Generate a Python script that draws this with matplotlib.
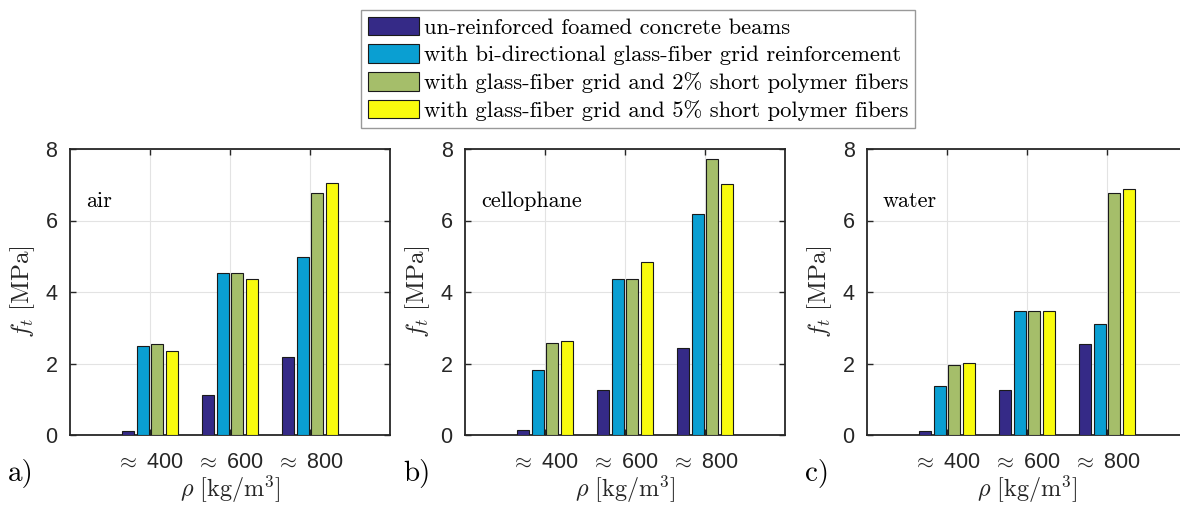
import matplotlib
matplotlib.use("Agg")
import matplotlib.pyplot as plt
import numpy as np

plt.rcParams['mathtext.fontset'] = 'cm'
plt.rcParams['font.family'] = ['Liberation Sans', 'DejaVu Sans']

categories = [r'$\approx$ 400', r'$\approx$ 600', r'$\approx$ 800']
series_labels = [
    'un-reinforced foamed concrete beams',
    'with bi-directional glass-fiber grid reinforcement',
    'with glass-fiber grid and 2% short polymer fibers',
    'with glass-fiber grid and 5% short polymer fibers',
]
colors = ['#352a87', '#0a9fd2', '#a5be6a', '#f9fb0e']

air_unreinforced = [0.11, 1.12, 2.17]
air_grid = [2.48, 4.53, 4.99]
air_grid_2pct = [2.55, 4.53, 6.76]
air_grid_5pct = [2.34, 4.35, 7.06]

cello_unreinforced = [0.14, 1.25, 2.42]
cello_grid = [1.81, 4.36, 6.18]
cello_grid_2pct = [2.57, 4.36, 7.73]
cello_grid_5pct = [2.63, 4.84, 7.03]

water_unreinforced = [0.12, 1.26, 2.55]
water_grid = [1.37, 3.46, 3.11]
water_grid_2pct = [1.96, 3.46, 6.76]
water_grid_5pct = [2.02, 3.48, 6.87]

panels = [
    ('air', 'a)', [air_unreinforced, air_grid, air_grid_2pct, air_grid_5pct]),
    ('cellophane', 'b)', [cello_unreinforced, cello_grid, cello_grid_2pct, cello_grid_5pct]),
    ('water', 'c)', [water_unreinforced, water_grid, water_grid_2pct, water_grid_5pct]),
]

W, H = 1180, 505
fig = plt.figure(figsize=(W / 100, H / 100), dpi=100)

lefts = [70, 465, 867]
ax_w = 320
ax_top = 149
ax_bot = 435
pitch = 0.183
bw = 0.15
x = np.arange(1, len(categories) + 1)
txtc = '#262626'
handles = None

for (name, letter, series), lpx in zip(panels, lefts):
    ax = fig.add_axes([lpx / W, 1 - ax_bot / H, ax_w / W, (ax_bot - ax_top) / H])
    hs = []
    for i, (vals, col) in enumerate(zip(series, colors)):
        h = ax.bar(x + (i - 1.5) * pitch, vals, width=bw, color=col,
                   edgecolor='#1a1a1a', linewidth=0.8, zorder=3)
        hs.append(h)
    handles = hs
    ax.set_xlim(0, 4)
    ax.set_ylim(0, 8)
    ax.set_xticks(x)
    ax.set_xticklabels(categories)
    ax.set_yticks([0, 2, 4, 6, 8])
    ax.grid(True, color='#e3e3e3', linewidth=0.8, zorder=0)
    ax.tick_params(direction='in', length=4, width=1, top=True, right=True,
                   labelsize=15.5, colors=txtc, labelcolor=txtc)
    ax.tick_params(axis='y', pad=9)
    ax.tick_params(axis='x', pad=12)
    for sp in ax.spines.values():
        sp.set_linewidth(1.3)
        sp.set_color(txtc)
    ax.set_ylabel(r'$f_t\ [\mathrm{MPa}]$', fontsize=18, color=txtc, labelpad=6)
    ax.set_xlabel(r'$\rho\ [\mathrm{kg/m^3}]$', fontsize=17.5, color=txtc, labelpad=0.5)
    ax.text(0.2, 6.55, name, family='cmr10', fontsize=16, va='center', ha='left')
    fig.text((lpx - 62) / W, 1 - 473 / H, letter, family='cmr10', fontsize=21,
             va='center', ha='left')

leg = fig.legend(handles, series_labels, loc='upper left',
                 bbox_to_anchor=(361 / W, 1 - 10 / H),
                 prop={'family': 'cmr10', 'size': 16.3},
                 frameon=True, fancybox=False, edgecolor='#808080',
                 handlelength=2.26, handleheight=0.88, handletextpad=0.22,
                 labelspacing=0.29, borderpad=0.3, borderaxespad=0)
leg.get_frame().set_linewidth(1.0)

fig.savefig('out.png', dpi=100)
